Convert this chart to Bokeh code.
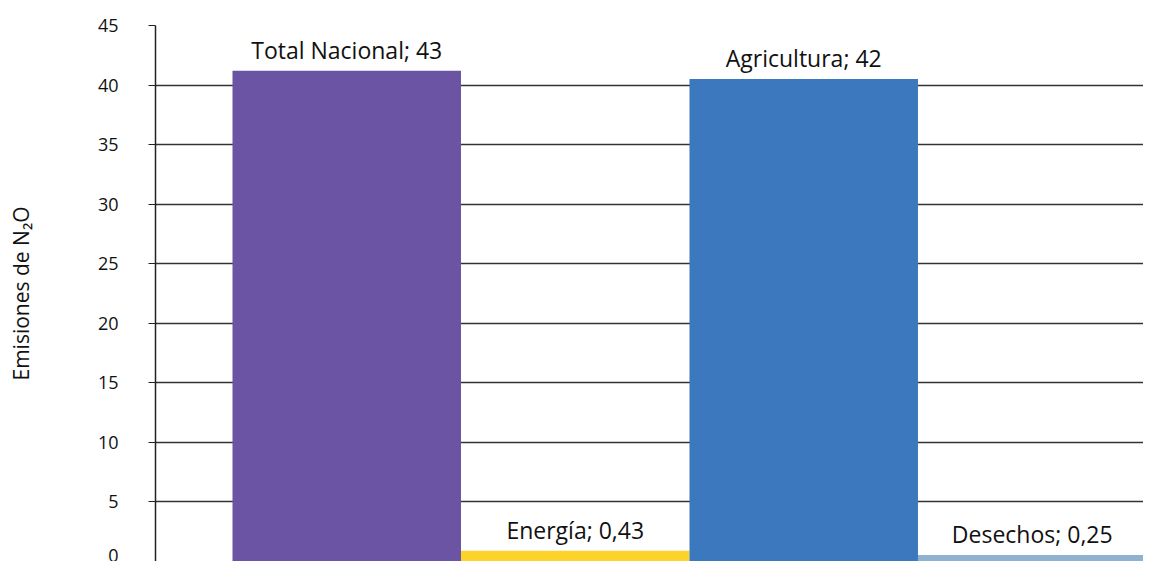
from bokeh.plotting import figure
from bokeh.models import ColumnDataSource, Range1d, FixedTicker
from bokeh.core.properties import value
from bokeh.embed import file_html
from bokeh.resources import INLINE

# Data
categories = ["Total Nacional", "Energía", "Agricultura", "Desechos"]
bar_values = [41.2, 0.9, 40.5, 0.55]
label_values = ["43", "0,43", "42", "0,25"]
colors = ["#6b54a3", "#fdd22b", "#3b78bd", "#8fb2d0"]
y_ticks = [0, 5, 10, 15, 20, 25, 30, 35, 40, 45]

labels = [f"{c}; {v}" for c, v in zip(categories, label_values)]
xs = list(range(len(categories)))

src = ColumnDataSource(dict(x=xs, top=bar_values, color=colors, label=labels))

p = figure(width=1143, height=561, output_backend="svg", toolbar_location=None,
           x_range=Range1d(-0.837, 3.487), y_range=Range1d(0, 45),
           x_axis_location=None, min_border_left=155, min_border_right=0,
           min_border_top=25, min_border_bottom=0)
p.outline_line_color = None
p.background_fill_color = "white"

p.vbar(x="x", top="top", width=1.0, bottom=0, color="color", line_color=None, source=src)

p.text(x="x", y="top", text="label", source=src, text_align="center",
       text_baseline="bottom", y_offset=-5, text_font=value("Open Sans"),
       text_font_size="23px", text_color="#111111")

p.xgrid.visible = False
p.ygrid.ticker = FixedTicker(ticks=y_ticks)
p.ygrid.grid_line_color = "#333333"
p.ygrid.grid_line_width = 1.3

ax = p.yaxis[0]
ax.ticker = FixedTicker(ticks=y_ticks)
ax.axis_line_color = "#222222"
ax.axis_line_width = 1.5
ax.major_tick_line_color = "#222222"
ax.major_tick_in = 0
ax.major_tick_out = 7
ax.minor_tick_line_color = None
ax.major_label_standoff = 30
ax.major_label_text_font = "Open Sans"
ax.major_label_text_font_size = "18px"
ax.major_label_text_color = "#111111"
ax.axis_label = "Emisiones de N₂O"
ax.axis_label_text_font = "Open Sans"
ax.axis_label_text_font_style = "normal"
ax.axis_label_text_font_size = "21px"
ax.axis_label_text_color = "#111111"
ax.axis_label_standoff = 60

open("out.html", "w").write(file_html(p, INLINE))
